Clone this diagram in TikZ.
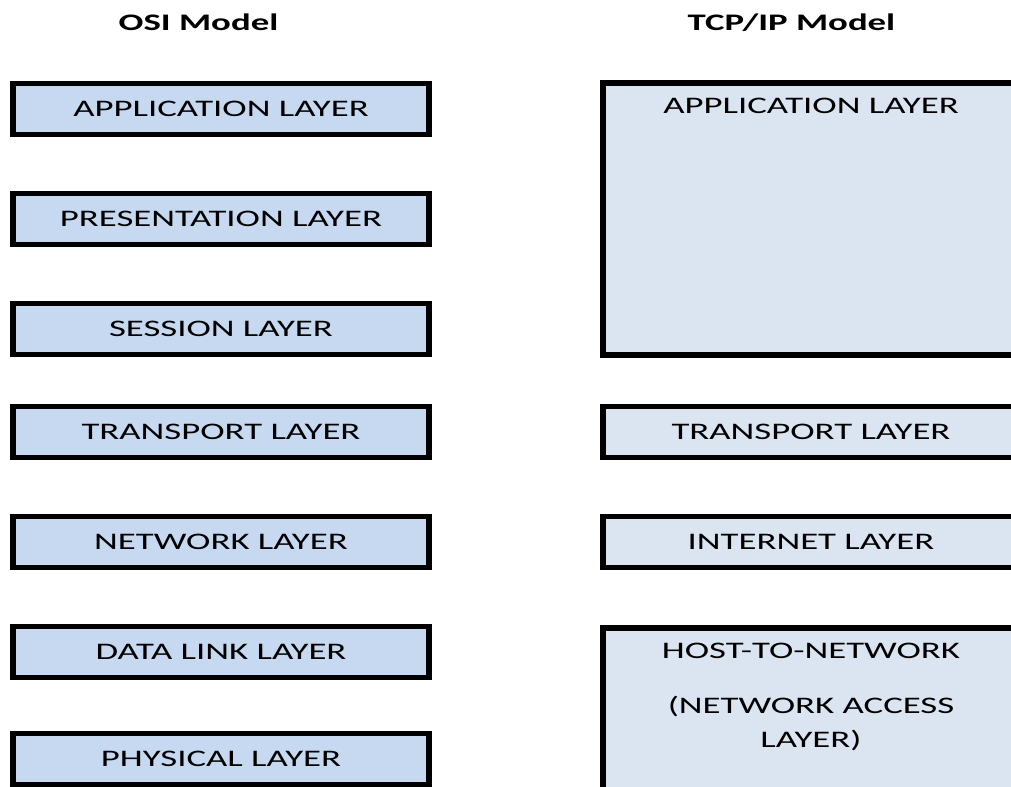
\documentclass[tikz,border=0pt]{standalone}
\usepackage{fontspec}
\setmainfont{Carlito}[FakeStretch=1.55]
\usepackage{tikz}
\definecolor{osiBlue}{RGB}{198,217,241}
\definecolor{tcpBlue}{RGB}{219,229,241}
\tikzstyle{osiNode} = [rectangle, minimum width=8.32cm, minimum height=1.02cm, text centered, draw=black, line width=3.4pt, fill=osiBlue, font=\fontsize{13.5pt}{19.8pt}\selectfont]
\tikzstyle{tcpNode} = [osiNode, fill=tcpBlue]
\tikzstyle{titleNode} = [anchor=base, font=\fontsize{13.5pt}{16pt}\selectfont\bfseries]
\tikzstyle{innerText} = [anchor=north, inner sep=0pt, yshift=-0.35cm, align=center, font=\fontsize{13.5pt}{19.8pt}\selectfont]

\begin{document}
\begin{tikzpicture}[node distance=2.2cm]
    \useasboundingbox (0,0) rectangle (20.22cm,-15.72cm);
    % Titles
    \node (osiTitle) [titleNode] at (3.97cm,-0.6cm) {OSI Model};
    \node (tcpTitle) [titleNode] at (15.83cm,-0.6cm) {TCP/IP Model};
    % OSI layers
    \node (osiApp) [osiNode] at (4.42cm,-2.18cm) {APPLICATION LAYER};
    \node (osiPres) [osiNode, below of=osiApp] {PRESENTATION LAYER};
    \node (osiSess) [osiNode, below of=osiPres] {SESSION LAYER};
    \node (osiTrans) [osiNode, below of=osiSess, yshift=0.14cm] {TRANSPORT LAYER};
    \node (osiNet) [osiNode, below of=osiTrans] {NETWORK LAYER};
    \node (osiLink) [osiNode, below of=osiNet] {DATA LINK LAYER};
    \node (osiPhys) [osiNode, below of=osiLink, yshift=0.06cm] {PHYSICAL LAYER};
    % TCP/IP layers
    \node (tcpApp) [tcpNode, minimum height=5.44cm, label={[innerText]north:APPLICATION LAYER}] at (16.22cm,-4.38cm) {};
    \node (tcpTrans) [tcpNode] at (tcpApp |- osiTrans) {TRANSPORT LAYER};
    \node (tcpNet) [tcpNode, below of=tcpTrans] {INTERNET LAYER};
    \node (tcpHost) [tcpNode, below of=tcpNet, yshift=-1.16cm, minimum height=3.28cm,
        label={[innerText]north:HOST-TO-NETWORK\\[11.4pt](NETWORK ACCESS\\LAYER)}] {};
\end{tikzpicture}
\end{document}
